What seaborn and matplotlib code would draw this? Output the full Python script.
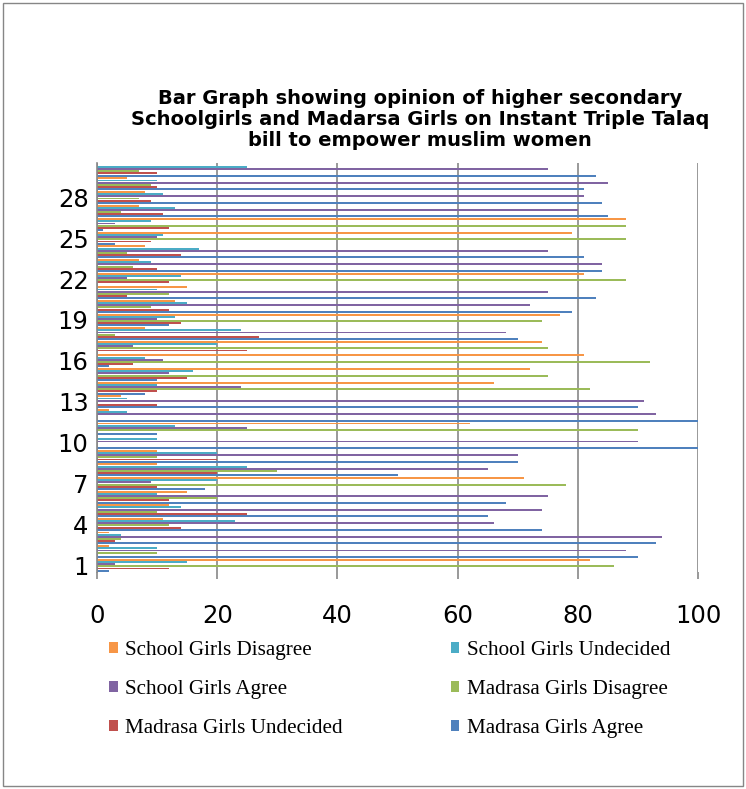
import pandas as pd
import seaborn as sns
import matplotlib.pyplot as plt
from matplotlib.patches import Patch, Rectangle

# statement numbers 1..30
items = [str(i) for i in range(1, 31)]

# percentages per statement
school_disagree = [82, 2, 2, 11, 12, 15, 71, 10, 10, 0, 62, 2, 4, 66, 72,
                   81, 74, 8, 77, 13, 15, 81, 7, 8, 79, 88, 7, 8, 5, 0]
school_undecided = [15, 10, 4, 23, 14, 10, 20, 25, 20, 10, 13, 5, 5, 10, 16,
                    8, 20, 24, 13, 15, 10, 14, 9, 17, 11, 9, 13, 11, 10, 25]
school_agree = [3, 88, 94, 66, 74, 75, 9, 65, 70, 90, 25, 93, 91, 24, 12,
                11, 6, 68, 10, 72, 75, 5, 84, 75, 10, 3, 80, 81, 85, 75]
madrasa_disagree = [86, 10, 4, 12, 10, 20, 78, 30, 10, 0, 90, 0, 0, 82, 75,
                    92, 75, 3, 74, 9, 12, 88, 6, 5, 88, 88, 4, 7, 9, 7]
madrasa_undecided = [12, 0, 3, 14, 25, 12, 10, 20, 20, 0, 0, 0, 10, 10, 15,
                     6, 25, 27, 14, 12, 5, 12, 10, 14, 9, 12, 11, 9, 10, 10]
madrasa_agree = [2, 90, 93, 74, 65, 68, 18, 50, 70, 100, 10, 100, 90, 8, 10,
                 2, 0, 70, 12, 79, 83, 0, 84, 81, 3, 1, 85, 84, 81, 83]

series = ['School Girls Disagree', 'School Girls Undecided', 'School Girls Agree',
          'Madrasa Girls Disagree', 'Madrasa Girls Undecided', 'Madrasa Girls Agree']
values = [school_disagree, school_undecided, school_agree,
          madrasa_disagree, madrasa_undecided, madrasa_agree]
colors = ['#F79646', '#4BACC6', '#8064A2', '#9BBB59', '#C0504D', '#4F81BD']

rows = []
for name, vals in zip(series, values):
    for item, v in zip(items, vals):
        rows.append({'Item': item, 'Series': name, 'Value': v})
df = pd.DataFrame(rows)

fig = plt.figure(figsize=(7.46, 7.89), dpi=100)
ax = fig.add_axes([0.130, 0.275, 0.806, 0.518])

# statement 30 on top, first series on top of each group
sns.barplot(data=df, y='Item', x='Value', hue='Series', order=items[::-1],
            hue_order=series, palette=colors, orient='h', width=0.96,
            gap=0.12, ax=ax, legend=False, saturation=1)

ax.set_xlim(0, 100)
ax.set_xticks(range(0, 101, 20))
ax.set_xlabel('')
ax.set_ylabel('')
shown = [1, 4, 7, 10, 13, 16, 19, 22, 25, 28]
ax.set_yticks([30 - k for k in shown], [str(k) for k in shown])

grid_c = '#878787'
ax.set_axisbelow(True)
ax.xaxis.grid(True, color=grid_c, lw=1.2)
ax.yaxis.grid(False)
for s in ['top', 'right', 'bottom']:
    ax.spines[s].set_visible(False)
ax.spines['left'].set_color(grid_c)
ax.spines['left'].set_linewidth(1.2)
ax.tick_params(axis='x', length=5, color=grid_c, width=1.2, pad=18, labelsize=17.5)
ax.tick_params(axis='y', length=0, pad=6, labelsize=17.5)

title = ('Bar Graph showing opinion of higher secondary\n'
         'Schoolgirls and Madarsa Girls on Instant Triple Talaq\n'
         'bill to empower muslim women')
fig.text(0.563, 0.849, title, ha='center', va='center', fontweight='bold',
         family='DejaVu Sans', fontsize=14, linespacing=1.13)

# legend laid out row by row like the original
order = [0, 2, 4, 1, 3, 5]
handles = [Patch(facecolor=colors[i], edgecolor='none') for i in order]
labels = [series[i] for i in order]
fig.legend(handles, labels, ncol=2, loc='upper left',
           bbox_to_anchor=(0.132, 0.201), frameon=False,
           prop={'family': 'Liberation Serif', 'size': 15.2},
           handlelength=0.42, handleheight=0.42, handletextpad=0.35,
           labelspacing=0.94, columnspacing=5.1, borderpad=0)

fig.add_artist(Rectangle((3 / 746, 3 / 789), 740 / 746, 783 / 789,
                         transform=fig.transFigure, fill=False,
                         ec='#868686', lw=1))

fig.savefig('out.png', dpi=100)
